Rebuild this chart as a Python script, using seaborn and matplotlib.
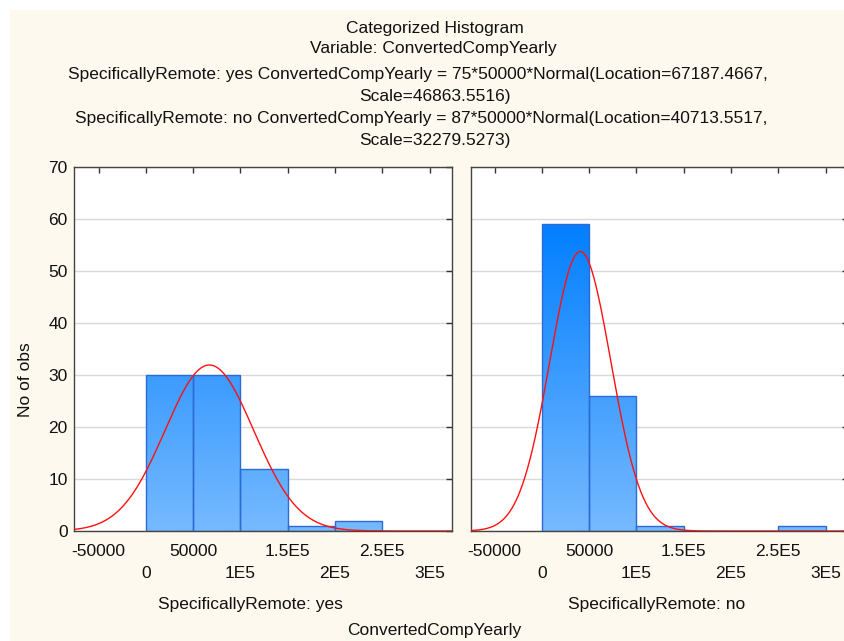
import numpy as np
import pandas as pd
import matplotlib
matplotlib.use("Agg")
import matplotlib.pyplot as plt
import seaborn as sns
from matplotlib.colors import LinearSegmentedColormap
from matplotlib.patches import Rectangle

# ---- data ----
bin_edges = [0, 50000, 100000, 150000, 200000, 250000, 300000]
counts_yes = [30, 30, 12, 1, 2, 0]
counts_no = [59, 26, 1, 0, 0, 1]
group_names = ["yes", "no"]
n_obs = [75, 87]
locations = [67187.4667, 40713.5517]
scales = [46863.5516, 32279.5273]
bin_width = 50000

xtick_row1 = [-50000, 50000, 150000, 250000]
xtick_row1_labels = ["-50000", "50000", "1.5E5", "2.5E5"]
xtick_row2 = [0, 100000, 200000, 300000]
xtick_row2_labels = ["0", "1E5", "2E5", "3E5"]
yticks = [0, 10, 20, 30, 40, 50, 60, 70]

title_lines = [
    "Categorized Histogram",
    "Variable: ConvertedCompYearly",
    "SpecificallyRemote: yes ConvertedCompYearly = 75*50000*Normal(Location=67187.4667,",
    "Scale=46863.5516)",
    "SpecificallyRemote: no ConvertedCompYearly = 87*50000*Normal(Location=40713.5517,",
    "Scale=32279.5273)",
]

# ---- style ----
sns.set_theme(style="white")
plt.rcParams["font.family"] = ["Liberation Sans", "DejaVu Sans"]
FS = 12.5
W, H = 845, 641
fig = plt.figure(figsize=(W / 100, H / 100), dpi=100, facecolor="white")
cream = "#FEF9EE"
fig.patches.append(Rectangle((10 / W, 0), 1, 1 - 10 / H, transform=fig.transFigure,
                             facecolor=cream, edgecolor="none", zorder=-10))

def px(x0, y0, x1, y1):
    return [x0 / W, 1 - y1 / H, (x1 - x0) / W, (y1 - y0) / H]

ax1 = fig.add_axes(px(74.5, 167, 452, 531))
ax2 = fig.add_axes(px(470.5, 167, 848, 531), sharey=ax1)

cmap = LinearSegmentedColormap.from_list("grad", ["#76B9FF", "#007EFF"])
xlim = (-75400, 323700)
ylim = (0, 70)

for ax, counts, n, mu, sd in zip([ax1, ax2], [counts_yes, counts_no], n_obs, locations, scales):
    centers = [(a + b) / 2 for a, b in zip(bin_edges[:-1], bin_edges[1:])]
    df = pd.DataFrame({"x": centers, "w": counts})
    sns.histplot(data=df, x="x", weights="w", bins=bin_edges, ax=ax,
                 edgecolor="#2C6AD4", linewidth=1.0, alpha=1)
    grad = np.linspace(0, 70, 300).reshape(-1, 1)
    for p in list(ax.patches):
        p.set_facecolor("none")
        p.set_zorder(3)
        h = p.get_height()
        if h <= 0:
            p.set_visible(False)
            continue
        im = ax.imshow(grad, extent=[xlim[0], xlim[1], 0, 70], origin="lower",
                       cmap=cmap, vmin=0, vmax=60, aspect="auto", zorder=2)
        im.set_clip_path(p)
    xs = np.linspace(xlim[0], xlim[1], 600)
    ys = n * bin_width * np.exp(-0.5 * ((xs - mu) / sd) ** 2) / (sd * np.sqrt(2 * np.pi))
    sns.lineplot(x=xs, y=ys, ax=ax, color="#FF1010", linewidth=1.0, zorder=4)
    ax.set_xlim(*xlim)
    ax.set_ylim(*ylim)
    ax.set_facecolor("white")
    ax.set_yticks(yticks)
    ax.yaxis.grid(True, color="#D9D9D9", linewidth=1.0)
    ax.set_axisbelow(True)
    ax.set_xticks(xtick_row1, xtick_row1_labels)
    ax.set_xticks(xtick_row2, xtick_row2_labels, minor=True)
    ax.tick_params(axis="both", which="both", direction="in", top=True, right=True,
                   length=4, width=1, color="#333333", labelsize=FS, labelcolor="#111111")
    ax.tick_params(axis="x", which="major", pad=9)
    ax.tick_params(axis="x", which="minor", pad=25.5)
    ax.tick_params(axis="y", pad=5)
    for s in ax.spines.values():
        s.set_color("#444444")
        s.set_linewidth(1.0)
    ax.set_xlabel("")
    ax.set_ylabel("")

ax2.tick_params(axis="y", labelleft=False)

# ---- texts ----
title_y = [28, 48, 75, 96, 118, 141]
title_x = [435, 433, 418, 435, 421, 435]
for t, x, y in zip(title_lines, title_x, title_y):
    fig.text(x / W, 1 - y / H, t, ha="center", va="center", fontsize=FS, color="#111111")

fig.text(26 / W, 1 - 380 / H, "No of obs", rotation=90, ha="center", va="center",
         fontsize=FS, color="#111111")
fig.text(250 / W, 1 - 605 / H, "SpecificallyRemote: yes", ha="center", va="center",
         fontsize=FS, color="#111111")
fig.text(657 / W, 1 - 605 / H, "SpecificallyRemote: no", ha="center", va="center",
         fontsize=FS, color="#111111")
fig.text(434 / W, 1 - 631 / H, "ConvertedCompYearly", ha="center", va="center",
         fontsize=FS, color="#111111")

fig.savefig("out.png", dpi=100, facecolor=fig.get_facecolor())
